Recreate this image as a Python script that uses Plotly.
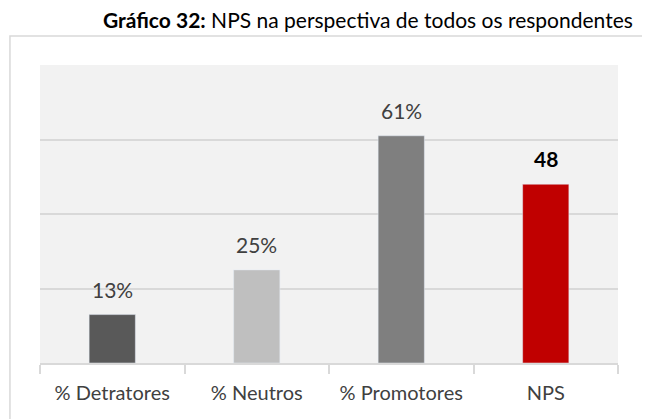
import plotly.graph_objects as go

# dados do gráfico
categorias = ['% Detratores', '% Neutros', '% Promotores', 'NPS']
valores = [13, 25, 61, 48]
rotulos = ['13%', '25%', '61%', '48']
cores = ['#595959', '#bfbfbf', '#7f7f7f', '#c00000']

fig = go.Figure()
fig.add_trace(go.Bar(x=categorias, y=valores, marker_color=cores, width=0.32,
                     hoverinfo='skip'))

# rotulos acima das barras
for c, v, r in zip(categorias, valores, rotulos):
    negrito = r == '48'
    fig.add_annotation(x=c, y=v, text='<b>' + r + '</b>' if negrito else r,
                       showarrow=False, yanchor='bottom', yshift=11,
                       font=dict(size=21, color='#000000' if negrito else '#404040'))

# moldura externa do grafico
fig.add_shape(type='rect', xref='paper', yref='paper', x0=-0.052, x1=1.05, y0=-0.4, y1=1.097,
              line=dict(color='#d9d9d9', width=1.5), fillcolor='rgba(0,0,0,0)', layer='below')

# titulo como anotacao (a pagina tem margem de 8px, entao desloco tudo)
fig.add_annotation(xref='paper', yref='paper', x=(360 - 32) / 578, y=1.097, yanchor='bottom',
                   yshift=2, showarrow=False,
                   text='<b>Gráfico 32:</b> NPS na perspectiva de todos os respondentes',
                   font=dict(size=21, color='#000000'))

fig.update_layout(
    width=650, height=419,
    margin=dict(l=32, r=40, t=57, b=64),
    paper_bgcolor='white', plot_bgcolor='#f2f2f2',
    font=dict(family='Lato', color='#404040'),
    showlegend=False,
    xaxis=dict(showline=True, linecolor='#d9d9d9', linewidth=1.5, ticks='outside',
               tickson='boundaries', ticklen=9, tickcolor='#d9d9d9', tickwidth=1.5,
               ticklabelstandoff=11,
               tickfont=dict(size=20, color='#404040'), showgrid=False),
    yaxis=dict(range=[0, 80], dtick=20, showticklabels=False, gridcolor='#d9d9d9',
               gridwidth=1.5, zeroline=False, fixedrange=True),
    bargap=0.68,
)

fig.write_html('out.html')
